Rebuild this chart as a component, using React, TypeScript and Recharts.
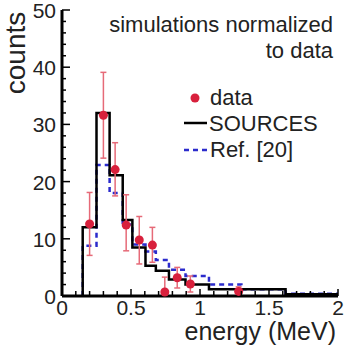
import { ComposedChart, Line, Scatter, ErrorBar, XAxis, YAxis } from 'recharts';

const dataEnergy = [0.2, 0.3, 0.385, 0.465, 0.56, 0.655, 0.745, 0.835, 0.93, 1.28];
const dataCounts = [12.6, 31.6, 22.1, 12.4, 9.8, 8.9, 0.7, 3.2, 2.1, 0.8];
const dataErrLow = [5.5, 7.5, 4.6, 4.5, 4.2, 3.0, 0.7, 1.8, 1.4, 0.8];
const dataErrHigh = [5.5, 7.5, 4.7, 5.3, 4.1, 3.1, 2.6, 1.8, 1.4, 0.8];

// SOURCES simulation histogram
const srcEdges = [0.15, 0.25, 0.345, 0.44, 0.51, 0.605, 0.68, 0.775, 0.895, 1.065, 1.62, 2.0];
const srcCounts = [12.0, 32.0, 21.1, 13.3, 8.5, 5.3, 4.4, 2.9, 2.0, 1.2, 0.3];

// Ref. [20] simulation histogram
const refEdges = [0.15, 0.25, 0.345, 0.44, 0.51, 0.605, 0.68, 0.775, 0.895, 1.065, 1.3, 1.62, 2.0];
const refCounts = [8.8, 22.9, 18.0, 12.5, 9.0, 7.8, 6.3, 4.6, 3.5, 2.0, 1.2, 0.4];

const xTicks = [0, 0.1, 0.2, 0.3, 0.4, 0.5, 0.6, 0.7, 0.8, 0.9, 1, 1.1, 1.2, 1.3, 1.4, 1.5, 1.6, 1.7, 1.8, 1.9, 2];
const yTicks = [0, 2, 4, 6, 8, 10, 12, 14, 16, 18, 20, 22, 24, 26, 28, 30, 32, 34, 36, 38, 40, 42, 44, 46, 48, 50];

const FONT = '"Liberation Sans", Arial, sans-serif';
const RED = '#d8203c';
const BLUE = '#2b2bcc';

function toSteps(edges: number[], counts: number[]) {
  const pts = [{ x: edges[0], y: 0 }];
  counts.forEach((c, i) => pts.push({ x: edges[i], y: c }));
  pts.push({ x: edges[edges.length - 1], y: counts[counts.length - 1] });
  return pts;
}

const srcSteps = toSteps(srcEdges, srcCounts);
const refSteps = toSteps(refEdges, refCounts);
const points = dataEnergy.map((x, i) => ({ x, y: dataCounts[i], err: [dataErrLow[i], dataErrHigh[i]] }));

const XTick = (props: any) => {
  const { x, y, payload } = props;
  const v = payload.value as number;
  const major = Math.abs(v * 2 - Math.round(v * 2)) < 1e-6;
  return (
    <g>
      <line x1={x} x2={x} y1={y} y2={y - (major ? 7 : 5)} stroke="#000" strokeWidth={1.5} />
      {major && (
        <text x={x} y={y + 19} textAnchor="middle" fontSize={21} fontFamily={FONT} fill="#222">
          {String(v)}
        </text>
      )}
    </g>
  );
};

const YTick = (props: any) => {
  const { x, y, payload } = props;
  const v = payload.value as number;
  const major = v % 10 === 0;
  return (
    <g>
      <line x1={x} x2={x + (major ? 8 : 4)} y1={y} y2={y} stroke="#000" strokeWidth={1.5} />
      {major && (
        <text x={x - 6} y={y + 8} textAnchor="end" fontSize={21} fontFamily={FONT} fill="#222">
          {v}
        </text>
      )}
    </g>
  );
};

export default function App() {
  return (
    <div style={{ position: 'absolute', left: 0, top: 0, width: 345, height: 351, background: '#fff' }}>
      <ComposedChart width={345} height={351} margin={{ top: 10, right: 7, bottom: 0, left: 0 }}>
        <XAxis
          xAxisId="b"
          dataKey="x"
          type="number"
          domain={[0, 2]}
          ticks={xTicks}
          interval={0}
          tickSize={0}
          tickMargin={0}
          tickLine={false}
          tick={<XTick />}
          height={55}
          axisLine={{ stroke: '#000', strokeWidth: 3 }}
        />
        <XAxis
          xAxisId="t"
          orientation="top"
          type="number"
          domain={[0, 2]}
          height={0}
          tick={false}
          tickLine={false}
          axisLine={{ stroke: '#000', strokeWidth: 3 }}
        />
        <YAxis
          yAxisId="l"
          dataKey="y"
          type="number"
          domain={[0, 50]}
          ticks={yTicks}
          interval={0}
          tickSize={0}
          tickMargin={0}
          tickLine={false}
          tick={<YTick />}
          width={62}
          axisLine={{ stroke: '#000', strokeWidth: 3 }}
        />
        <YAxis
          yAxisId="r"
          orientation="right"
          type="number"
          domain={[0, 50]}
          width={0}
          tick={false}
          tickLine={false}
          axisLine={{ stroke: '#000', strokeWidth: 3 }}
        />
        <Line
          xAxisId="b"
          yAxisId="l"
          data={refSteps}
          dataKey="y"
          type="stepAfter"
          stroke={BLUE}
          strokeWidth={2.5}
          strokeDasharray="5 4"
          dot={false}
          isAnimationActive={false}
        />
        <Line
          xAxisId="b"
          yAxisId="l"
          data={srcSteps}
          dataKey="y"
          type="stepAfter"
          stroke="#000"
          strokeWidth={2.5}
          dot={false}
          isAnimationActive={false}
        />
        <Scatter
          xAxisId="b"
          yAxisId="l"
          data={points}
          dataKey="y"
          fill={RED}
          isAnimationActive={false}
          shape={(p: any) => <circle cx={p.cx} cy={p.cy} r={4.5} fill={RED} />}
        >
          <ErrorBar dataKey="err" direction="y" width={3} stroke="#e66a78" strokeWidth={1.5} />
        </Scatter>
      </ComposedChart>
      <svg width={345} height={351} style={{ position: 'absolute', left: 0, top: 0, pointerEvents: 'none' }}>
        <g fontFamily={FONT} fill="#222">
          <text transform="translate(25,53) rotate(-90)" textAnchor="middle" fontSize={28}>
            counts
          </text>
          <text x={336} y={340} textAnchor="end" fontSize={25}>
            energy (MeV)
          </text>
          <text x={333} y={32} textAnchor="end" fontSize={22}>
            simulations normalized
          </text>
          <text x={333} y={58} textAnchor="end" fontSize={22}>
            to data
          </text>
          <circle cx={195} cy={98} r={4.5} fill={RED} />
          <text x={210} y={105} fontSize={22}>data</text>
          <line x1={184} x2={207} y1={123} y2={123} stroke="#000" strokeWidth={2.5} />
          <text x={209} y={131} fontSize={22}>SOURCES</text>
          <line x1={184} x2={207} y1={150} y2={150} stroke={BLUE} strokeWidth={2.5} strokeDasharray="5 4" />
          <text x={210} y={157} fontSize={22}>Ref. [20]</text>
        </g>
      </svg>
    </div>
  );
}
